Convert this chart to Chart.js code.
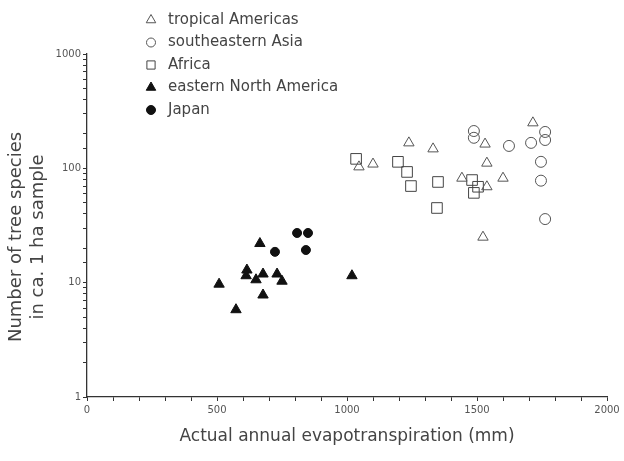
<!DOCTYPE html>
<html>
<head>
<meta charset="utf-8">
<script src="https://cdn.jsdelivr.net/npm/chart.js@4.4.1/dist/chart.umd.min.js"></script>
<style>
  body { margin: 0; background: #fff; }
  #wrap { width: 624px; height: 461px; }
</style>
</head>
<body>
<div id="wrap"><canvas id="myChart" width="624" height="461"></canvas></div>
<script>
// values (AET in mm, species per ~1 ha)
const tropicalX = [1238, 1331, 1100, 1046, 1442, 1531, 1538, 1600, 1538, 1523, 1715];
const tropicalY = [167, 148, 109, 103, 82, 163, 111, 82, 69, 25, 250];

const asiaX = [1488, 1488, 1623, 1708, 1762, 1762, 1746, 1746, 1762];
const asiaY = [212, 185, 157, 167, 208, 177, 114, 78, 36];

const africaX = [1035, 1196, 1231, 1246, 1350, 1346, 1481, 1504, 1488];
const africaY = [121, 114, 93, 70, 76, 45, 79, 69, 61];

const naX = [665, 615, 612, 677, 650, 731, 750, 508, 677, 573, 1019];
const naY = [22, 12.9, 11.5, 11.9, 10.6, 11.9, 10.3, 9.7, 7.8, 5.8, 11.5];

const japanX = [808, 850, 723, 842];
const japanY = [27.2, 27.2, 18.6, 19.3];

const seriesNames = ['tropical Americas', 'southeastern Asia', 'Africa', 'eastern North America', 'Japan'];
const xTickLabels = [0, 500, 1000, 1500, 2000];
const yTickLabels = [1, 10, 100, 1000];

function pares(xs, ys) {
    var lista = [];
    for (var i = 0; i < xs.length; i++) {
        lista.push({ x: xs[i], y: ys[i] });
    }
    return lista;
}

const corTexto = '#444';
const corLinha = '#333';

// legenda desenhada a mao no canto de cima, como no original
const legendaLateral = {
    id: 'legendaLateral',
    afterDraw(chart) {
        const ctx = chart.ctx;
        ctx.save();
        chart.data.datasets.forEach(function (ds, i) {
            const y = 20 + i * 22.5;
            ctx.lineWidth = 1;
            ctx.strokeStyle = ds.borderColor;
            ctx.fillStyle = ds.backgroundColor;
            Chart.helpers.drawPoint(ctx, {
                pointStyle: ds.pointStyle,
                radius: ds.legendRadius,
                borderWidth: 1,
                rotation: 0
            }, 151, y);
            ctx.fillStyle = corTexto;
            ctx.font = '15px "DejaVu Sans"';
            ctx.textBaseline = 'middle';
            ctx.textAlign = 'left';
            ctx.fillText(ds.label, 168, y);
        });
        ctx.restore();
    }
};

const ctx = document.getElementById('myChart');

new Chart(ctx, {
    type: 'scatter',
    data: {
        datasets: [{
            label: seriesNames[0],
            data: pares(tropicalX, tropicalY),
            pointStyle: 'triangle',
            pointRadius: 6,
            legendRadius: 5.5,
            borderWidth: 1,
            borderColor: '#555',
            backgroundColor: 'rgba(255,255,255,0)'
        }, {
            label: seriesNames[1],
            data: pares(asiaX, asiaY),
            pointStyle: 'circle',
            pointRadius: 5.5,
            legendRadius: 4.5,
            borderWidth: 1,
            borderColor: '#555',
            backgroundColor: 'rgba(255,255,255,0)'
        }, {
            label: seriesNames[2],
            data: pares(africaX, africaY),
            pointStyle: 'rect',
            pointRadius: 7.5,
            legendRadius: 5.8,
            borderWidth: 1,
            borderColor: '#444',
            backgroundColor: 'rgba(255,255,255,0)'
        }, {
            label: seriesNames[3],
            data: pares(naX, naY),
            pointStyle: 'triangle',
            pointRadius: 6,
            legendRadius: 5.5,
            borderWidth: 1,
            borderColor: '#111',
            backgroundColor: '#111'
        }, {
            label: seriesNames[4],
            data: pares(japanX, japanY),
            pointStyle: 'circle',
            pointRadius: 4.5,
            legendRadius: 4.5,
            borderWidth: 1,
            borderColor: '#111',
            backgroundColor: '#111'
        }]
    },
    options: {
        responsive: false,
        animation: false,
        layout: {
            padding: { top: 54, right: 17, bottom: 0, left: 0 }
        },
        plugins: {
            legend: { display: false },
            tooltip: { enabled: false }
        },
        scales: {
            x: {
                type: 'linear',
                min: 0,
                max: 2000,
                afterFit: function (s) { s.height = 64; },
                ticks: {
                    stepSize: 100,
                    autoSkip: false,
                    maxRotation: 0,
                    padding: 3,
                    color: '#555',
                    font: { family: 'DejaVu Sans', size: 10 },
                    callback: function (v) {
                        return xTickLabels.indexOf(v) >= 0 ? String(v) : '';
                    }
                },
                grid: {
                    drawOnChartArea: false,
                    tickLength: 4,
                    tickColor: corLinha
                },
                border: { color: corLinha, width: 1.3 },
                title: {
                    display: true,
                    text: 'Actual annual evapotranspiration (mm)',
                    color: corTexto,
                    font: { family: 'DejaVu Sans', size: 17 },
                    padding: { top: 0, bottom: 14 }
                }
            },
            y: {
                type: 'logarithmic',
                min: 1,
                max: 1000,
                afterFit: function (s) { s.width = 87; },
                ticks: {
                    autoSkip: false,
                    padding: 2,
                    color: '#555',
                    font: { family: 'DejaVu Sans', size: 10 },
                    callback: function (v) {
                        return yTickLabels.indexOf(v) >= 0 ? String(v) : '';
                    }
                },
                grid: {
                    drawOnChartArea: false,
                    tickLength: 4,
                    tickColor: corLinha
                },
                border: { color: corLinha, width: 1.3 },
                title: {
                    display: true,
                    // espacos no fim empurram o titulo um pouco para baixo, como no original
                    text: ['Number of tree species    ', 'in ca. 1 ha sample    '],
                    color: corTexto,
                    font: { family: 'DejaVu Sans', size: 18, lineHeight: 1.22 },
                    padding: { top: 5, bottom: 0 }
                }
            }
        }
    },
    plugins: [legendaLateral]
});
</script>
</body>
</html>
